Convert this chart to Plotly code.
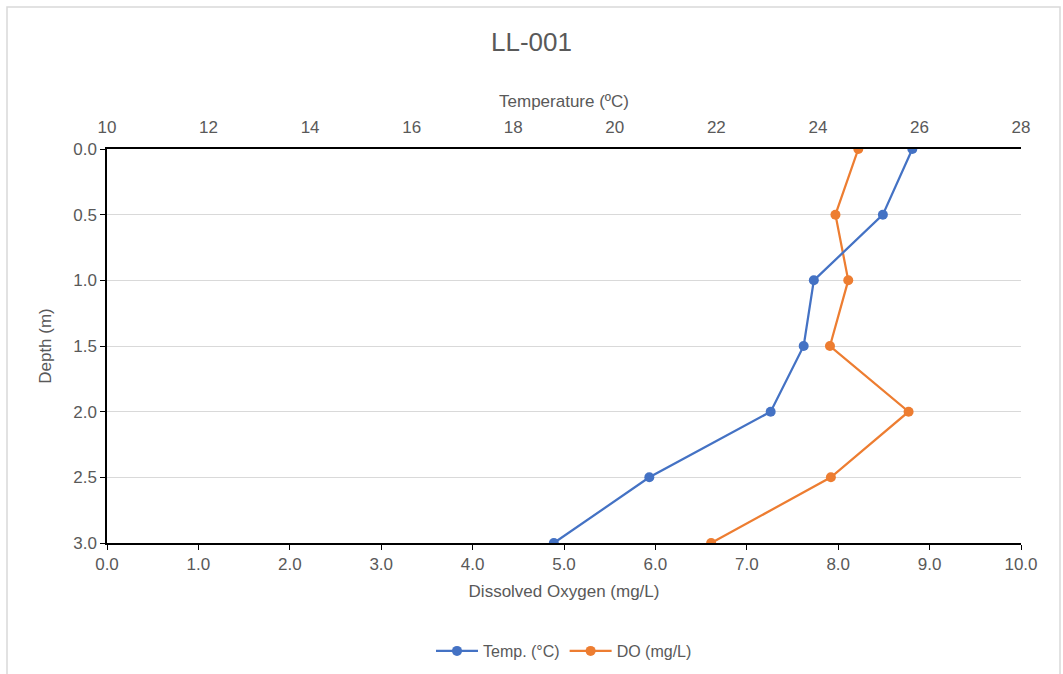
import plotly.graph_objects as go

# Profile at station LL-001
depth_m = [0.0, 0.5, 1.0, 1.5, 2.0, 2.5, 3.0]
temp_c = [25.86, 25.28, 23.92, 23.72, 23.07, 20.68, 18.80]
do_mgl = [8.22, 7.97, 8.11, 7.91, 8.77, 7.92, 6.61]

blue = "#4472C4"
orange = "#ED7D31"
grey_text = "#595959"
font_family = "Liberation Sans, Arial, sans-serif"

fig = go.Figure()
fig.add_trace(go.Scatter(
    x=temp_c, y=depth_m, name="Temp. (°C)", xaxis="x2", yaxis="y",
    mode="lines+markers",
    line=dict(color=blue, width=2.25),
    marker=dict(color=blue, size=10),
))
fig.add_trace(go.Scatter(
    x=do_mgl, y=depth_m, name="DO (mg/L)", xaxis="x", yaxis="y",
    mode="lines+markers",
    line=dict(color=orange, width=2.25),
    marker=dict(color=orange, size=10),
))

W, H = 1063, 674
L, R, T, B = 107, 42, 149, 131
pw, ph = W - L - R, H - T - B


def px_x(x):
    return (x - L) / pw


def px_y(y):
    return (H - B - y) / ph


tick_font = dict(size=17, color=grey_text)
title_font = dict(size=17, color=grey_text)

fig.update_layout(
    width=W, height=H,
    margin=dict(l=L, r=R, t=T, b=B, autoexpand=False),
    paper_bgcolor="white", plot_bgcolor="white",
    font=dict(family=font_family, color=grey_text, size=16),
    title=dict(text="LL-001", x=0.5, xanchor="center", y=1 - 42 / H, yanchor="middle",
               font=dict(size=26, color=grey_text)),
    showlegend=True,
    legend=dict(orientation="h", x=0.5, xanchor="center", y=px_y(651), yanchor="middle",
                font=dict(size=16, color=grey_text), traceorder="normal", itemwidth=42),
    xaxis=dict(
        range=[0, 10], dtick=1, tickformat=".1f", showgrid=False, tickfont=tick_font,
        showline=True, linecolor="black", linewidth=1.5,
        ticks="outside", ticklen=5, tickcolor="black",
        title=dict(text="Dissolved Oxygen (mg/L)", font=title_font, standoff=12),
        zeroline=False, automargin=False,
    ),
    xaxis2=dict(
        range=[10, 28], dtick=2, overlaying="x", side="top", showgrid=False,
        tickfont=tick_font,
        showline=True, linecolor="black", linewidth=1.5,
        ticks="outside", ticklen=7, tickcolor="rgba(0,0,0,0)",
        title=dict(text="Temperature (ºC)", font=title_font, standoff=7),
        zeroline=False, automargin=False,
    ),
    yaxis=dict(
        range=[3, 0], dtick=0.5, tickformat=".1f", tickfont=tick_font,
        showgrid=True, gridcolor="#d9d9d9", gridwidth=1,
        showline=True, linecolor="black", linewidth=1.5,
        ticks="outside", ticklen=5, tickcolor="black",
        title=dict(text="Depth (m)", font=title_font, standoff=17),
        zeroline=False, automargin=False,
    ),
    shapes=[dict(
        type="rect", xref="paper", yref="paper",
        x0=px_x(7), x1=px_x(1060), y0=px_y(680), y1=px_y(7),
        line=dict(color="#d9d9d9", width=1.5), fillcolor="rgba(0,0,0,0)", layer="below",
    )],
)

fig.write_html("out.html")
